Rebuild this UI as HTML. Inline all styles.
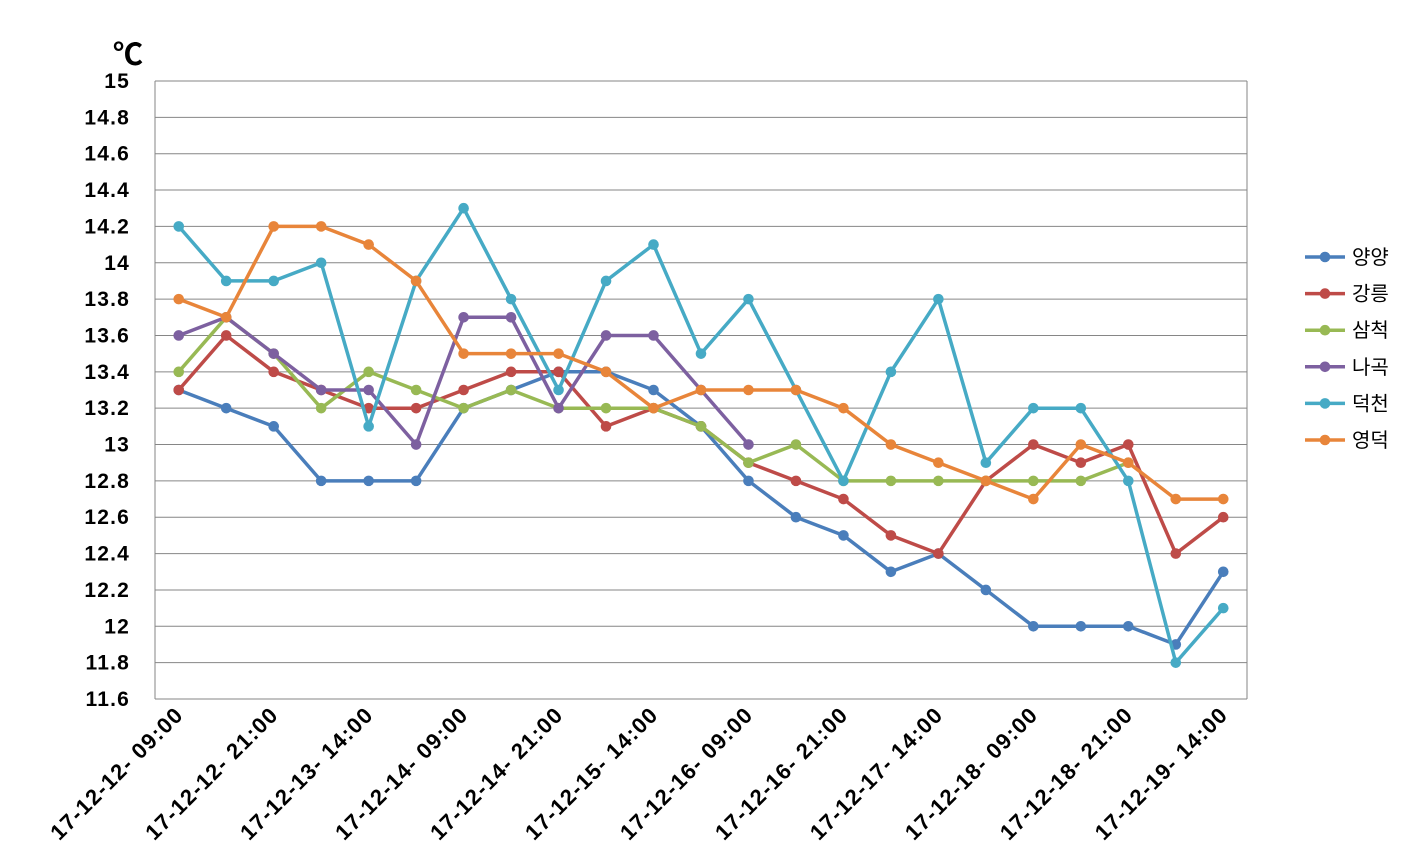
<!DOCTYPE html>
<html><head><meta charset="utf-8">
<style>
html,body{margin:0;padding:0;background:#fff;}
svg text{font-family:"Liberation Sans","Noto Sans CJK KR",sans-serif;}
</style></head>
<body>
<svg id="c" width="1421" height="863" xmlns="http://www.w3.org/2000/svg"></svg>
<script>
const svg=document.getElementById('c');
let h='';
const y0=81,y1=699,x0=155,x1=1247;
const Y=v=>y0+(15-v)/3.4*(y1-y0);
const X=i=>x0+(i+0.5)*(x1-x0)/23;
for(let k=0;k<=17;k++){
  const v=15-k*0.2, y=Y(v);
  h+=`<line x1="${x0}" x2="${x1}" y1="${y}" y2="${y}" stroke="#868686" stroke-width="1"/>`;
  let lab=(Math.round(v*10)/10).toString();
  h+=`<text x="130" y="${y+7}" text-anchor="end" font-size="21" font-weight="bold" letter-spacing="1.2">${lab}</text>`;
}
h+=`<line x1="${x0}" x2="${x0}" y1="${y0}" y2="${y1}" stroke="#868686"/>`;
h+=`<line x1="${x1}" x2="${x1}" y1="${y0}" y2="${y1}" stroke="#868686"/>`;
h+=`<text x="113" y="65" font-size="30" font-weight="bold">℃</text>`;
const labs=["17-12-12- 09:00","17-12-12- 21:00","17-12-13- 14:00","17-12-14- 09:00","17-12-14- 21:00","17-12-15- 14:00","17-12-16- 09:00","17-12-16- 21:00","17-12-17- 14:00","17-12-18- 09:00","17-12-18- 21:00","17-12-19- 14:00"];
labs.forEach((l,j)=>{const x=X(j*2)+6,y=716;
 h+=`<text transform="translate(${x},${y}) rotate(-45)" text-anchor="end" font-size="22" font-weight="bold" letter-spacing="1.3">${l}</text>`;});
const S=[
["양양","#4a7ebb",[13.3,13.2,13.1,12.8,12.8,12.8,13.2,13.3,13.4,13.4,13.3,13.1,12.8,12.6,12.5,12.3,12.4,12.2,12.0,12.0,12.0,11.9,12.3]],
["강릉","#be4b48",[13.3,13.6,13.4,13.3,13.2,13.2,13.3,13.4,13.4,13.1,13.2,13.1,12.9,12.8,12.7,12.5,12.4,12.8,13.0,12.9,13.0,12.4,12.6]],
["삼척","#98b954",[13.4,13.7,13.5,13.2,13.4,13.3,13.2,13.3,13.2,13.2,13.2,13.1,12.9,13.0,12.8,12.8,12.8,12.8,12.8,12.8,12.9]],
["나곡","#7d60a0",[13.6,13.7,13.5,13.3,13.3,13.0,13.7,13.7,13.2,13.6,13.6,13.3,13.0]],
["덕천","#46aac5",[14.2,13.9,13.9,14.0,13.1,13.9,14.3,13.8,13.3,13.9,14.1,13.5,13.8,13.3,12.8,13.4,13.8,12.9,13.2,13.2,12.8,11.8,12.1]],
["영덕","#e8853a",[13.8,13.7,14.2,14.2,14.1,13.9,13.5,13.5,13.5,13.4,13.2,13.3,13.3,13.3,13.2,13.0,12.9,12.8,12.7,13.0,12.9,12.7,12.7]]];
S.forEach((s,k)=>{
 const pts=s[2].map((v,i)=>`${X(i).toFixed(1)},${Y(v).toFixed(1)}`).join(' ');
 h+=`<polyline points="${pts}" fill="none" stroke="${s[1]}" stroke-width="3.5" stroke-linejoin="round"/>`;
 s[2].forEach((v,i)=>h+=`<circle cx="${X(i)}" cy="${Y(v)}" r="5.3" fill="${s[1]}"/>`);
 const ly=257+k*36.6;
 h+=`<line x1="1305" x2="1345" y1="${ly}" y2="${ly}" stroke="${s[1]}" stroke-width="3.5"/><circle cx="1325" cy="${ly}" r="5.3" fill="${s[1]}"/>`;
 h+=`<text x="1352" y="${ly+7}" font-size="20">${s[0]}</text>`;
});
svg.innerHTML=h;
</script>
</body></html>
